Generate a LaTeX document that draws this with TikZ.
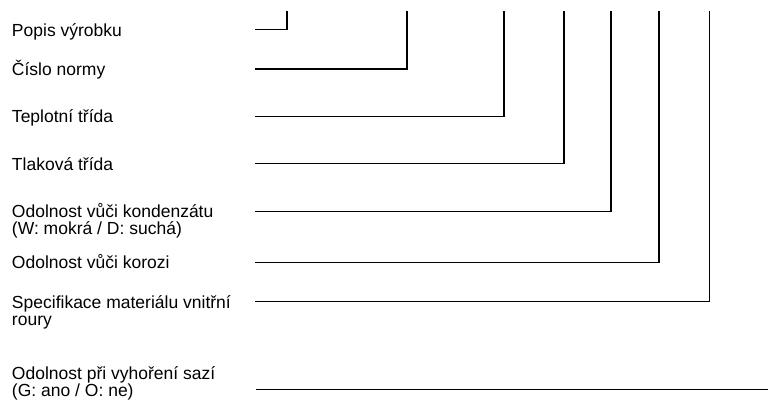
\documentclass[tikz,border=0pt]{standalone}
\usepackage{fontspec}
\setmainfont{Liberation Sans}
\begin{document}
\begin{tikzpicture}[x=1pt,y=-1pt,
  lbl/.style={anchor=base west,inner sep=0pt,outer sep=0pt,align=left,
    font=\fontsize{17.5}{17}\selectfont},
  lead/.style={line width=1.4pt,line cap=rect}]
\useasboundingbox (0,0) rectangle (768,401);
\node[lbl] (l1) at (12,36.5) {Popis výrobku};
\node[lbl] (l2) at (12,75.5) {Číslo normy};
\node[lbl] (l3) at (12,123) {Teplotní třída};
\node[lbl] (l4) at (12,170) {Tlaková třída};
\node[lbl] (l5) at (12,234.5) {Odolnost vůči kondenzátu\\(W: mokrá / D: suchá)};
\node[lbl] (l6) at (12,268.5) {Odolnost vůči korozi};
\node[lbl] (l7) at (12,325) {Specifikace materiálu vnitřní\\roury};
\node[lbl] (l8) at (12,396.5) {Odolnost při vyhoření sazí\\(G: ano / O: ne)};
\coordinate (s1) at (256,29.3);  \coordinate (t1) at (287,11.7);
\coordinate (s2) at (256,69);    \coordinate (t2) at (407,11.7);
\coordinate (s3) at (256,116.7); \coordinate (t3) at (504,11.7);
\coordinate (s4) at (256,163.7); \coordinate (t4) at (564,11.7);
\coordinate (s5) at (256,211.7); \coordinate (t5) at (611,11.7);
\coordinate (s6) at (256,262.3); \coordinate (t6) at (659,11.7);
\coordinate (s7) at (256,301.3); \coordinate (t7) at (709.7,11.7);
\coordinate (s8) at (256,389.7); \coordinate (t8) at (768,389.7);
\draw[lead] (s1) -| (t1);
\draw[lead] (s2) -| (t2);
\draw[lead] (s3) -| (t3);
\draw[lead] (s4) -| (t4);
\draw[lead] (s5) -| (t5);
\draw[lead] (s6) -| (t6);
\draw[lead] (s7) -| (t7);
\draw[lead,line cap=butt] (s8) -- (t8);
\end{tikzpicture}
\end{document}
